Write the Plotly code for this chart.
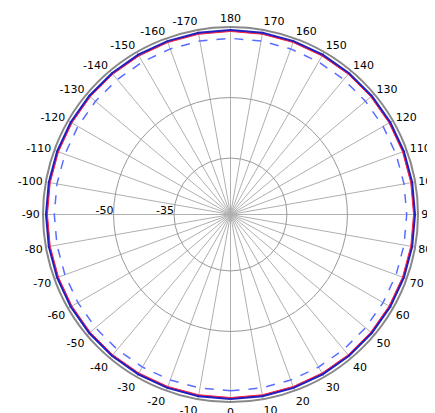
import plotly.graph_objects as pgo

angles = list(range(0, 361, 10))
red_gain = [-3.6] * len(angles)
blue_gain = [-3.3] * len(angles)
blue_dash_gain = [-5.3] * len(angles)

tick_vals = list(range(0, 360, 10))
tick_text = [str(a if a <= 180 else a - 360) for a in tick_vals]

fig = pgo.Figure()
fig.add_trace(pgo.Scatterpolar(r=blue_dash_gain, theta=angles, mode="lines",
                               line=dict(color="#5a6cff", width=1.5, dash="dash")))
fig.add_trace(pgo.Scatterpolar(r=blue_gain, theta=angles, mode="lines",
                               line=dict(color="#2020c0", width=2.5)))
fig.add_trace(pgo.Scatterpolar(r=red_gain, theta=angles, mode="lines",
                               line=dict(color="#ff2040", width=1)))

fig.update_layout(
    width=435, height=413, showlegend=False,
    paper_bgcolor="white",
    margin=dict(l=35, r=25, t=15, b=15),
    font=dict(family="DejaVu Sans", size=11, color="black"),
    polar=dict(
        bgcolor="white",
        radialaxis=dict(range=[-49, -2.5], tickvals=[-35, -20], ticktext=["-35", "-50"],
                        angle=180, tickangle=180, showline=False, ticks="",
                        gridcolor="#999", gridwidth=1),
        angularaxis=dict(rotation=270, direction="counterclockwise",
                         tickvals=tick_vals, ticktext=tick_text, ticks="",
                         gridcolor="#b0b0b0", linecolor="#888", linewidth=2),
    ),
)
fig.write_html("out.html")
